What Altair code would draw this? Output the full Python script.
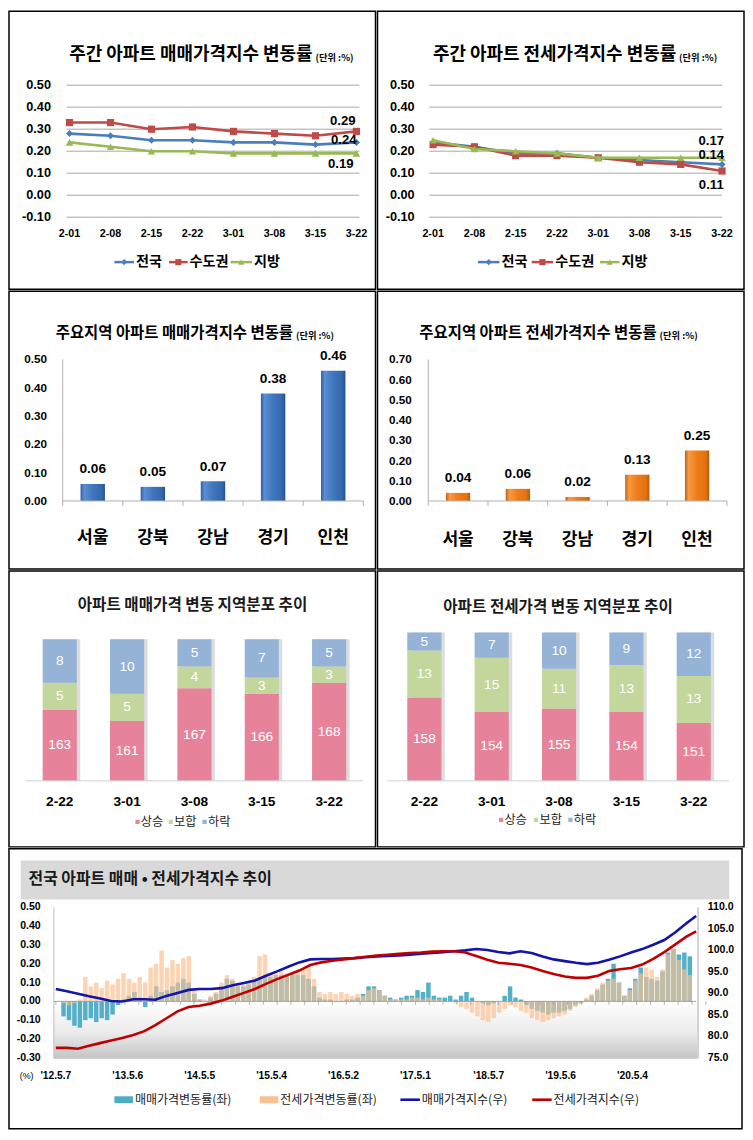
import altair as alt
import pandas as pd

# ---------------- top row: weekly change rate (%) ----------------
weeks = ["2-01", "2-08", "2-15", "2-22", "3-01", "3-08", "3-15", "3-22"]
series_names = ["전국", "수도권", "지방"]
sale_nat = [0.28, 0.27, 0.25, 0.25, 0.24, 0.24, 0.23, 0.24]
sale_cap = [0.33, 0.33, 0.30, 0.31, 0.29, 0.28, 0.27, 0.29]
sale_reg = [0.24, 0.22, 0.20, 0.20, 0.19, 0.19, 0.19, 0.19]
jeon_nat = [0.24, 0.22, 0.19, 0.19, 0.17, 0.16, 0.15, 0.14]
jeon_cap = [0.23, 0.22, 0.18, 0.18, 0.17, 0.15, 0.14, 0.11]
jeon_reg = [0.25, 0.21, 0.20, 0.19, 0.17, 0.17, 0.17, 0.17]
line_ticks = [0.5, 0.4, 0.3, 0.2, 0.1, 0.0, -0.1]
line_tick_labels = ["0.50", "0.40", "0.30", "0.20", "0.10", "0.00", "-0.10"]

# ---------------- second row: major regions ----------------
regions = ["서울", "강북", "강남", "경기", "인천"]
sale_region = [0.06, 0.05, 0.07, 0.38, 0.46]
jeon_region = [0.04, 0.06, 0.02, 0.13, 0.25]
sale_reg_ticks = [0.0, 0.1, 0.2, 0.3, 0.4, 0.5]
sale_reg_labels = ["0.00", "0.10", "0.20", "0.30", "0.40", "0.50"]
jeon_reg_ticks = [0.0, 0.1, 0.2, 0.3, 0.4, 0.5, 0.6, 0.7]
jeon_reg_labels = ["0.00", "0.10", "0.20", "0.30", "0.40", "0.50", "0.60", "0.70"]

# ---------------- third row: regional distribution ----------------
dist_weeks = ["2-22", "3-01", "3-08", "3-15", "3-22"]
dist_cats = ["상승", "보합", "하락"]
sale_up = [163, 161, 167, 166, 168]
sale_flat = [5, 5, 4, 3, 3]
sale_down = [8, 10, 5, 7, 5]
jeon_up = [158, 154, 155, 154, 151]
jeon_flat = [13, 15, 11, 13, 13]
jeon_down = [5, 7, 10, 9, 12]
sale_dist_base = 150   # value axis of the stacked bars starts here (not at zero)
jeon_dist_base = 135

# ---------------- bottom: long-term trend ----------------
long_start = "2012-05-07"
long_end = "2021-03-22"
# 4-week bins of weekly change rates (%), left axis
sale_rate = [-0.08, -0.10, -0.13, -0.14, -0.10, -0.09, -0.11, -0.09, -0.10, -0.07,
             -0.02, 0.01, 0.03, 0.05, 0.02, -0.03, 0.03, 0.08, 0.05, 0.06,
             0.08, 0.10, 0.12, 0.10, 0.04, 0.01, 0.00, 0.02, 0.04, 0.08,
             0.12, 0.11, 0.08, 0.08, 0.09, 0.11, 0.12, 0.13, 0.13, 0.14,
             0.14, 0.14, 0.15, 0.14, 0.14, 0.12, 0.08, 0.02, 0.01, 0.01,
             0.00, 0.00, 0.01, 0.01, 0.02, 0.04, 0.08, 0.08, 0.06, 0.03,
             0.02, 0.01, 0.02, 0.03, 0.03, 0.06, 0.05, 0.10, 0.03, 0.02,
             0.02, 0.03, 0.01, 0.03, 0.05, 0.02, 0.00, -0.01, -0.02, -0.01,
             0.00, 0.03, 0.08, 0.02, 0.01, -0.02, -0.04, -0.05, -0.06, -0.07,
             -0.06, -0.06, -0.05, -0.04, -0.02, -0.01, 0.01, 0.03, 0.06, 0.09,
             0.12, 0.20, 0.10, 0.03, 0.07, 0.12, 0.18, 0.13, 0.12, 0.11,
             0.16, 0.26, 0.28, 0.25, 0.26, 0.24]
jeon_rate = [-0.01, -0.02, -0.01, 0.01, 0.13, 0.08, 0.10, 0.07, 0.11, 0.09,
             0.12, 0.15, 0.12, 0.10, 0.13, 0.10, 0.18, 0.20, 0.27, 0.18,
             0.22, 0.20, 0.23, 0.24, 0.06, 0.01, 0.01, 0.03, 0.05, 0.10,
             0.14, 0.12, 0.10, 0.09, 0.10, 0.13, 0.24, 0.25, 0.15, 0.15,
             0.16, 0.15, 0.16, 0.16, 0.17, 0.19, 0.12, 0.05, 0.04, 0.05,
             0.04, 0.05, 0.04, 0.03, 0.04, 0.03, 0.06, 0.07, 0.06, 0.03,
             0.01, 0.01, 0.01, 0.01, 0.02, 0.02, 0.01, 0.02, 0.01, 0.01,
             0.00, 0.00, -0.01, -0.03, -0.04, -0.06, -0.08, -0.10, -0.11, -0.09,
             -0.06, -0.04, -0.02, -0.03, -0.05, -0.06, -0.09, -0.10, -0.11, -0.10,
             -0.09, -0.08, -0.07, -0.05, -0.03, -0.01, 0.02, 0.04, 0.07, 0.10,
             0.11, 0.12, 0.10, 0.03, 0.06, 0.11, 0.15, 0.18, 0.17, 0.13,
             0.17, 0.25, 0.28, 0.22, 0.17, 0.14]
# index levels every 8 weeks (+ last week), right axis
sale_index = [91.0, 90.5, 89.9, 89.3, 88.8, 88.2, 88.1, 88.6, 88.6, 88.5,
              89.4, 90.1, 90.8, 91.0, 91.0, 91.2, 91.9, 92.4, 93.0, 94.1,
              95.1, 96.2, 97.2, 97.9, 98.0, 98.0, 98.1, 98.2, 98.4, 98.6,
              98.7, 98.8, 99.0, 99.2, 99.4, 99.6, 99.8, 100.0, 100.3, 100.1,
              99.6, 99.3, 99.8, 99.4, 98.6, 97.9, 97.5, 97.1, 96.8, 97.1,
              97.8, 98.6, 99.5, 100.3, 101.3, 102.4, 104.2, 106.3, 108.0]
jeon_index = [77.3, 77.3, 77.1, 77.8, 78.4, 79.0, 79.6, 80.3, 81.2, 82.6,
              84.2, 85.8, 86.8, 87.1, 87.6, 88.3, 89.2, 90.1, 91.0, 92.2,
              93.3, 94.3, 95.3, 96.6, 97.2, 97.6, 97.9, 98.2, 98.5, 98.8,
              99.0, 99.2, 99.4, 99.5, 99.7, 99.8, 99.8, 99.5, 98.7, 97.8,
              97.1, 96.9, 96.6, 96.0, 95.2, 94.5, 93.9, 93.6, 93.6, 94.1,
              95.2, 95.6, 95.9, 96.7, 98.0, 99.6, 101.4, 103.2, 104.4]
long_tick_dates = ["2012-05-07", "2013-05-06", "2014-05-05", "2015-05-04", "2016-05-02",
                   "2017-05-01", "2018-05-07", "2019-05-06", "2020-05-04"]
long_tick_labels = ["'12.5.7", "'13.5.6", "'14.5.5", "'15.5.4", "'16.5.2",
                    "'17.5.1", "'18.5.7", "'19.5.6", "'20.5.4"]
rate_ticks = [0.5, 0.4, 0.3, 0.2, 0.1, 0.0, -0.1, -0.2, -0.3]
rate_tick_labels = ["0.50", "0.40", "0.30", "0.20", "0.10", "0.00", "-0.10", "-0.20", "-0.30"]
index_ticks = [110, 105, 100, 95, 90, 85, 80, 75]
index_tick_labels = ["110.0", "105.0", "100.0", "95.0", "90.0", "85.0", "80.0", "75.0"]

# ---------------- layout / style ----------------
K = 0.98
PW = 368
WB = 736
RH = [279, 279, 277, 281]
KR = "Noto Sans CJK KR"
NUM = "Liberation Sans"
NARROW = "Liberation Sans Narrow, Liberation Sans"
LINE_COLORS = ["#4A7EBB", "#BE4B48", "#98B954"]
SHAPES = ["diamond", "square", "triangle-up"]
SIZES = [50, 52, 58]
DIST_COLORS = ["#E6839B", "#C3D69B", "#95B3D7"]


def s(v):
    return round(v * K, 2)


def deco_text(items, size, weight="bold", align="left", color="#000000", font=KR):
    df = pd.DataFrame({"px": [s(i[0]) for i in items],
                       "py": [s(i[1]) for i in items],
                       "t": [i[2] for i in items]})
    return alt.Chart(df).mark_text(align=align, baseline="middle", fontSize=size * K,
                                   fontWeight=weight, font=font, color=color).encode(
        x=alt.X("px:Q", scale=None), y=alt.Y("py:Q", scale=None), text="t:N")


def weekly_panel(title, unit_x, data, ylab_x, grid_x, pt_x, end_offsets, legend_x):
    ysc = alt.Scale(domain=[-0.1, 0.5], range=[s(211), s(75.7)], nice=False, zero=False)
    xsc = alt.Scale(type="point", domain=weeks, range=[s(pt_x[0]), s(pt_x[1])], padding=0)
    tk = pd.DataFrame({"v": line_ticks, "lab": line_tick_labels})
    layers = [
        alt.Chart(tk).mark_rule(color="#A6A6A6", strokeWidth=1).encode(
            y=alt.Y("v:Q", scale=ysc, axis=None),
            x=alt.value(s(grid_x[0])), x2=alt.value(s(grid_x[1]))),
        alt.Chart(tk).mark_text(align="right", baseline="middle", font=NUM, fontWeight="bold",
                                fontSize=13 * K).encode(
            y=alt.Y("v:Q", scale=ysc, axis=None), x=alt.value(s(ylab_x)), text="lab:N"),
        alt.Chart(pd.DataFrame({"week": weeks})).mark_text(
            baseline="middle", font=NUM, fontWeight="bold", fontSize=11 * K).encode(
            x=alt.X("week:N", scale=xsc, axis=None), y=alt.value(s(228)), text="week:N"),
    ]
    for vals, color, shape, size in zip(data, LINE_COLORS, SHAPES, SIZES):
        df = pd.DataFrame({"week": weeks, "v": vals, "i": list(range(len(weeks)))})
        base = alt.Chart(df).encode(x=alt.X("week:N", scale=xsc, axis=None),
                                    y=alt.Y("v:Q", scale=ysc, axis=None))
        layers.append(base.mark_line(color=color, strokeWidth=2.6).encode(order="i:Q"))
        layers.append(base.mark_point(shape=shape, filled=True, size=size, color=color, opacity=1))
    for vals, (dx, dy) in zip(data, end_offsets):
        df = pd.DataFrame({"week": [weeks[-1]], "v": [vals[-1]], "lab": [f"{vals[-1]:.2f}"]})
        layers.append(alt.Chart(df).mark_text(font=NUM, fontWeight="bold", fontSize=13.5 * K,
                                              baseline="middle", dx=dx * K, dy=dy * K).encode(
            x=alt.X("week:N", scale=xsc, axis=None), y=alt.Y("v:Q", scale=ysc, axis=None),
            text="lab:N"))
    lg = pd.DataFrame({
        "x0": [s(a) for a, _, _ in legend_x], "x1": [s(b) for _, b, _ in legend_x],
        "xm": [s((a + b) / 2) for a, b, _ in legend_x], "tx": [s(t) for _, _, t in legend_x],
        "y": [s(257)] * 3, "lab": series_names, "c": LINE_COLORS, "sh": SHAPES})
    layers.append(alt.Chart(lg).mark_rule(strokeWidth=2.5).encode(
        x=alt.X("x0:Q", scale=None), x2="x1:Q", y=alt.Y("y:Q", scale=None),
        color=alt.Color("c:N", scale=None)))
    layers.append(alt.Chart(lg).mark_point(filled=True, size=38, opacity=1).encode(
        x=alt.X("xm:Q", scale=None), y=alt.Y("y:Q", scale=None),
        color=alt.Color("c:N", scale=None), shape=alt.Shape("sh:N", scale=None)))
    layers.append(alt.Chart(lg).mark_text(align="left", baseline="middle", font=KR,
                                          fontWeight="bold", fontSize=14.5 * K).encode(
        x=alt.X("tx:Q", scale=None), y=alt.Y("y:Q", scale=None), text="lab:N"))
    layers.append(deco_text([(unit_x - 3, 45, title)], 18.4, align="right"))
    layers.append(deco_text([(unit_x, 47.5, "(단위 :%)")], 9.5))
    return alt.layer(*layers).properties(width=PW, height=RH[0]).resolve_scale(
        x="independent", y="independent")


def region_panel(title, unit_x, vals, ymax, ticks, tick_labels, ylab_x, ax, grad, label_y):
    ysc = alt.Scale(domain=[0, ymax], range=[s(215), s(70)], nice=False, zero=False)
    p = 0.594
    xsc = alt.Scale(type="band", domain=regions, range=[s(ax[0]), s(ax[1])],
                    paddingInner=p, paddingOuter=p / 2)
    xsc0 = alt.Scale(type="band", domain=regions, range=[s(ax[0]), s(ax[1])],
                     paddingInner=0, paddingOuter=0)
    df = pd.DataFrame({"r": regions, "v": vals, "lab": [f"{v:.2f}" for v in vals]})
    tk = pd.DataFrame({"v": ticks, "lab": tick_labels})
    one = pd.DataFrame({"a": [0]})
    layers = [
        alt.Chart(df).mark_bar(color=grad).encode(
            x=alt.X("r:N", scale=xsc, axis=None), y=alt.Y("v:Q", scale=ysc, axis=None)),
        alt.Chart(one).mark_rule(color="#B0B0B0", strokeWidth=1).encode(
            x=alt.value(s(ax[0])), y=alt.value(s(70)), y2=alt.value(s(215))),
        alt.Chart(one).mark_rule(color="#B0B0B0", strokeWidth=1).encode(
            x=alt.value(s(ax[0])), x2=alt.value(s(ax[1])), y=alt.value(s(215))),
        alt.Chart(df).mark_rule(color="#B0B0B0", strokeWidth=1).encode(
            x=alt.X("r:N", scale=xsc0, axis=None, bandPosition=0),
            y=alt.value(s(215)), y2=alt.value(s(220))),
        alt.Chart(one).mark_rule(color="#B0B0B0", strokeWidth=1).encode(
            x=alt.value(s(ax[1])), y=alt.value(s(215)), y2=alt.value(s(220))),
        alt.Chart(tk).mark_text(align="right", baseline="middle", font=NUM, fontWeight="bold",
                                fontSize=12 * K).encode(
            y=alt.Y("v:Q", scale=ysc, axis=None), x=alt.value(s(ylab_x)), text="lab:N"),
        alt.Chart(df).mark_text(baseline="middle", font=NUM, fontWeight="bold",
                                fontSize=14 * K, dy=-15 * K).encode(
            x=alt.X("r:N", scale=xsc, axis=None), y=alt.Y("v:Q", scale=ysc, axis=None),
            text="lab:N"),
        alt.Chart(df).mark_text(baseline="middle", font=KR, fontWeight="bold",
                                fontSize=17.5 * K).encode(
            x=alt.X("r:N", scale=xsc, axis=None), y=alt.value(s(label_y)), text="r:N"),
        deco_text([(unit_x - 3, 43, title)], 15.8, align="right"),
        deco_text([(unit_x, 45.5, "(단위 :%)")], 9.5),
    ]
    return alt.layer(*layers).properties(width=PW, height=RH[1]).resolve_scale(
        x="independent", y="independent")


def dist_panel(title, title_c, title_y, counts, base, top, band, line_x, xlab_y, sq_x, tx_x, leg_y):
    total = sum(c[0] for c in counts)
    ysc = alt.Scale(domain=[base, total], range=[s(215), s(top)], nice=False, zero=False)
    p = 0.493
    xsc = alt.Scale(type="band", domain=dist_weeks, range=[s(band[0]), s(band[1])],
                    paddingInner=p, paddingOuter=p / 2)
    rows = []
    for wi, w in enumerate(dist_weeks):
        acc = 0
        for ci, cat in enumerate(dist_cats):
            c = counts[ci][wi]
            lo = max(acc, base)
            rows.append({"w": w, "cat": cat, "n": c, "y0": lo, "y1": acc + c,
                         "mid": (lo + acc + c) / 2})
            acc += c
    df = pd.DataFrame(rows)
    tot = df.groupby("w", sort=False)["n"].sum().reset_index()
    tot["b"] = base
    one = pd.DataFrame({"a": [0]})
    lg = pd.DataFrame({"sx": [s(v) for v in sq_x], "tx": [s(v) for v in tx_x],
                       "y": [s(leg_y)] * 3, "cat": dist_cats, "c": DIST_COLORS})
    layers = [
        alt.Chart(tot).mark_bar(color="#CFCFCF", opacity=0.7, xOffset=3.5 * K).encode(
            x=alt.X("w:N", scale=xsc, axis=None), y=alt.Y("n:Q", scale=ysc, axis=None),
            y2="b:Q"),
        alt.Chart(df).mark_bar().encode(
            x=alt.X("w:N", scale=xsc, axis=None), y=alt.Y("y1:Q", scale=ysc, axis=None),
            y2="y0:Q",
            color=alt.Color("cat:N", scale=alt.Scale(domain=dist_cats, range=DIST_COLORS),
                            legend=None)),
        alt.Chart(one).mark_rule(color="#D0D0D0", strokeWidth=1).encode(
            x=alt.value(s(line_x[0])), x2=alt.value(s(line_x[1])), y=alt.value(s(215))),
        alt.Chart(df).mark_text(baseline="middle", font=NARROW, fontSize=14 * K,
                                color="#FFFFFF").encode(
            x=alt.X("w:N", scale=xsc, axis=None), y=alt.Y("mid:Q", scale=ysc, axis=None),
            text="n:N"),
        alt.Chart(pd.DataFrame({"w": dist_weeks})).mark_text(
            baseline="middle", font=NUM, fontWeight="bold", fontSize=14 * K).encode(
            x=alt.X("w:N", scale=xsc, axis=None), y=alt.value(s(xlab_y)), text="w:N"),
        alt.Chart(lg).mark_square(size=18, opacity=1).encode(
            x=alt.X("sx:Q", scale=None), y=alt.Y("y:Q", scale=None),
            color=alt.Color("c:N", scale=None)),
        alt.Chart(lg).mark_text(align="left", baseline="middle", font=KR,
                                fontSize=12.5 * K, color="#222222").encode(
            x=alt.X("tx:Q", scale=None), y=alt.Y("y:Q", scale=None), text="cat:N"),
        deco_text([(title_c, title_y, title)], 16, weight="bold", align="center",
                  color="#1a1a1a"),
    ]
    return alt.layer(*layers).properties(width=PW, height=RH[2]).resolve_scale(
        x="independent", y="independent")


def long_panel():
    t0 = pd.Timestamp(long_start)
    bar_dates = [(t0 + pd.Timedelta(days=28 * i + 14)).strftime("%Y-%m-%d")
                 for i in range(len(sale_rate))]
    idx_dates = [(t0 + pd.Timedelta(days=56 * i)).strftime("%Y-%m-%d")
                 for i in range(len(sale_index) - 1)] + [long_end]
    tick_dates = [(t0 + pd.Timedelta(days=70 * i)).strftime("%Y-%m-%d") for i in range(48)]
    xsc = alt.Scale(domain=[alt.DateTime(year=2012, month=5, date=7, utc=True),
                            alt.DateTime(year=2021, month=3, date=22, utc=True)],
                    range=[s(48), s(704)])
    ysl = alt.Scale(domain=[-0.3, 0.5], range=[s(214), s(60)], nice=False, zero=False)
    ysr = alt.Scale(domain=[75, 110], range=[s(214), s(60)], nice=False, zero=False)
    zero_y = 60 + 0.5 / 0.8 * 154
    bars = pd.DataFrame({"d": bar_dates, "sale": sale_rate, "jeon": jeon_rate})
    idx = pd.DataFrame({"d": idx_dates, "si": sale_index, "ji": jeon_index})
    one = pd.DataFrame({"a": [0]})
    grad_bg = {"gradient": "linear", "x1": 0, "x2": 0, "y1": 0, "y2": 1,
               "stops": [{"offset": 0, "color": "#FFFFFF"}, {"offset": 0.55, "color": "#EBEBEB"},
                         {"offset": 1, "color": "#C4C4C4"}]}
    X = alt.X("d:T", scale=xsc, axis=None)
    lt = pd.DataFrame({"v": rate_ticks, "lab": rate_tick_labels})
    rt = pd.DataFrame({"v": index_ticks, "lab": index_tick_labels})
    xt = pd.DataFrame({"d": long_tick_dates, "lab": long_tick_labels})
    lg_bar = pd.DataFrame({"x0": [s(108), s(257)], "x1": [s(127), s(276)],
                           "y": [s(257)] * 2, "c": ["#4BACC6", "#FAC08F"]})
    lg_line = pd.DataFrame({"x0": [s(401), s(536)], "x1": [s(421), s(556)],
                            "y": [s(257)] * 2, "c": ["#1414A8", "#C00000"]})
    lg_txt = pd.DataFrame({"x": [s(129), s(278), s(423), s(558)], "y": [s(257)] * 4,
                           "t": ["매매가격변동률(좌)", "전세가격변동률(좌)", "매매가격지수(우)", "전세가격지수(우)"]})
    layers = [
        alt.Chart(one).mark_rect(color="#D9D9D9").encode(
            x=alt.value(s(12)), x2=alt.value(s(738)), y=alt.value(s(12)), y2=alt.value(s(52))),
        deco_text([(20, 31, "전국 아파트 매매 • 전세가격지수 추이")], 16.3, color="#1a1a1a"),
        alt.Chart(one).mark_rect(fill=grad_bg).encode(
            x=alt.value(s(46)), x2=alt.value(s(705)), y=alt.value(s(zero_y)), y2=alt.value(s(215))),
        alt.Chart(one).mark_rule(color="#D2D2D2", strokeWidth=2).encode(
            x=alt.value(s(706)), y=alt.value(s(60)), y2=alt.value(s(215))),
        alt.Chart(one).mark_rule(color="#C0C0C0", strokeWidth=1).encode(
            x=alt.value(s(46)), y=alt.value(s(60)), y2=alt.value(s(215))),
        alt.Chart(bars).mark_bar(width=4.6 * K, color="#4BACC6", opacity=0.95).encode(
            x=X, y=alt.Y("sale:Q", scale=ysl, axis=None)),
        alt.Chart(bars).mark_bar(width=4.6 * K, color="#FAC08F", opacity=0.68).encode(
            x=X, y=alt.Y("jeon:Q", scale=ysl, axis=None)),
        alt.Chart(one).mark_rule(color="#A0A0A0", strokeWidth=1).encode(
            x=alt.value(s(46)), x2=alt.value(s(704)), y=alt.value(s(zero_y))),
        alt.Chart(pd.DataFrame({"d": tick_dates})).mark_rule(color="#A0A0A0", strokeWidth=0.8).encode(
            x=X, y=alt.value(s(zero_y)), y2=alt.value(s(zero_y + 3.5))),
        alt.Chart(idx).mark_line(color="#1414A8", strokeWidth=2.6).encode(
            x=X, y=alt.Y("si:Q", scale=ysr, axis=None)),
        alt.Chart(idx).mark_line(color="#C00000", strokeWidth=2.6).encode(
            x=X, y=alt.Y("ji:Q", scale=ysr, axis=None)),
        alt.Chart(lt).mark_text(align="right", baseline="middle", font=NUM, fontWeight="bold",
                                fontSize=10.8 * K).encode(
            y=alt.Y("v:Q", scale=ysl, axis=None), x=alt.value(s(32.5)), text="lab:N"),
        alt.Chart(rt).mark_text(align="left", baseline="middle", font=NUM, fontWeight="bold",
                                fontSize=10.8 * K).encode(
            y=alt.Y("v:Q", scale=ysr, axis=None), x=alt.value(s(716)), text="lab:N"),
        alt.Chart(xt).mark_text(baseline="middle", font=NUM, fontWeight="bold",
                                fontSize=10.5 * K).encode(
            x=X, y=alt.value(s(233)), text="lab:N"),
        deco_text([(18, 233, "(%)")], 9, weight="normal", align="center", font=NUM),
        alt.Chart(lg_bar).mark_rule(strokeWidth=7 * K).encode(
            x=alt.X("x0:Q", scale=None), x2="x1:Q", y=alt.Y("y:Q", scale=None),
            color=alt.Color("c:N", scale=None)),
        alt.Chart(lg_line).mark_rule(strokeWidth=2.6).encode(
            x=alt.X("x0:Q", scale=None), x2="x1:Q", y=alt.Y("y:Q", scale=None),
            color=alt.Color("c:N", scale=None)),
        alt.Chart(lg_txt).mark_text(align="left", baseline="middle", font=KR,
                                    fontSize=12.3 * K, color="#222222").encode(
            x=alt.X("x:Q", scale=None), y=alt.Y("y:Q", scale=None), text="t:N"),
    ]
    return alt.layer(*layers).properties(width=WB, height=RH[3]).resolve_scale(
        x="independent", y="independent")


blue_grad = {"gradient": "linear", "x1": 0, "x2": 1, "y1": 0, "y2": 0,
             "stops": [{"offset": 0, "color": "#2F5F9F"}, {"offset": 0.15, "color": "#5A8ED3"},
                       {"offset": 0.5, "color": "#3F76BD"}, {"offset": 0.85, "color": "#3569AE"},
                       {"offset": 1, "color": "#24528F"}]}
orange_grad = {"gradient": "linear", "x1": 0, "x2": 1, "y1": 0, "y2": 0,
               "stops": [{"offset": 0, "color": "#C55F08"}, {"offset": 0.15, "color": "#F79A45"},
                         {"offset": 0.5, "color": "#EE7D18"}, {"offset": 0.85, "color": "#E27212"},
                         {"offset": 1, "color": "#B85A08"}]}

p1 = weekly_panel("주간 아파트 매매가격지수 변동률", 314, [sale_nat, sale_cap, sale_reg],
                  43, (59, 359), (62, 356), [(-13, -2), (-14, -11), (-16, 11)],
                  [(108, 128, 130), (164, 183, 185), (227, 249, 251)])
p2 = weekly_panel("주간 아파트 전세가격지수 변동률", 309, [jeon_nat, jeon_cap, jeon_reg],
                  38, (53, 353), (57, 353), [(-11, -10), (-11, 14.5), (-11, -17)],
                  [(103, 125, 127), (158, 180, 182), (228, 248, 250)])
p3 = region_panel("주요지역 아파트 매매가격지수 변동률", 294, sale_region, 0.5,
                  sale_reg_ticks, sale_reg_labels, 39, (55, 363), blue_grad, 253)
p4 = region_panel("주요지역 아파트 전세가격지수 변동률", 289, jeon_region, 0.7,
                  jeon_reg_ticks, jeon_reg_labels, 35, (52, 358), orange_grad, 255)
p5 = dist_panel("아파트 매매가격 변동 지역분포 추이", 188, 35, [sale_up, sale_flat, sale_down],
                sale_dist_base, 70, (17.5, 362.5), (17, 363), 237,
                (131.7, 165.7, 200.3), (135, 169, 204), 257)
p6 = dist_panel("아파트 전세가격 변동 지역분포 추이", 185, 37, [jeon_up, jeon_flat, jeon_down],
                jeon_dist_base, 63, (13.5, 358.5), (10, 360), 237,
                (126.7, 162.3, 197.7), (130, 166, 201), 255)
p7 = long_panel()

chart = alt.vconcat(
    alt.hconcat(p1, p2, spacing=0),
    alt.hconcat(p3, p4, spacing=0),
    alt.hconcat(p5, p6, spacing=0),
    p7,
    spacing=0,
).configure_view(stroke="#000000", strokeWidth=1.5).properties(padding=0)

chart.save("out.html", embed_options={"renderer": "svg", "actions": False})
